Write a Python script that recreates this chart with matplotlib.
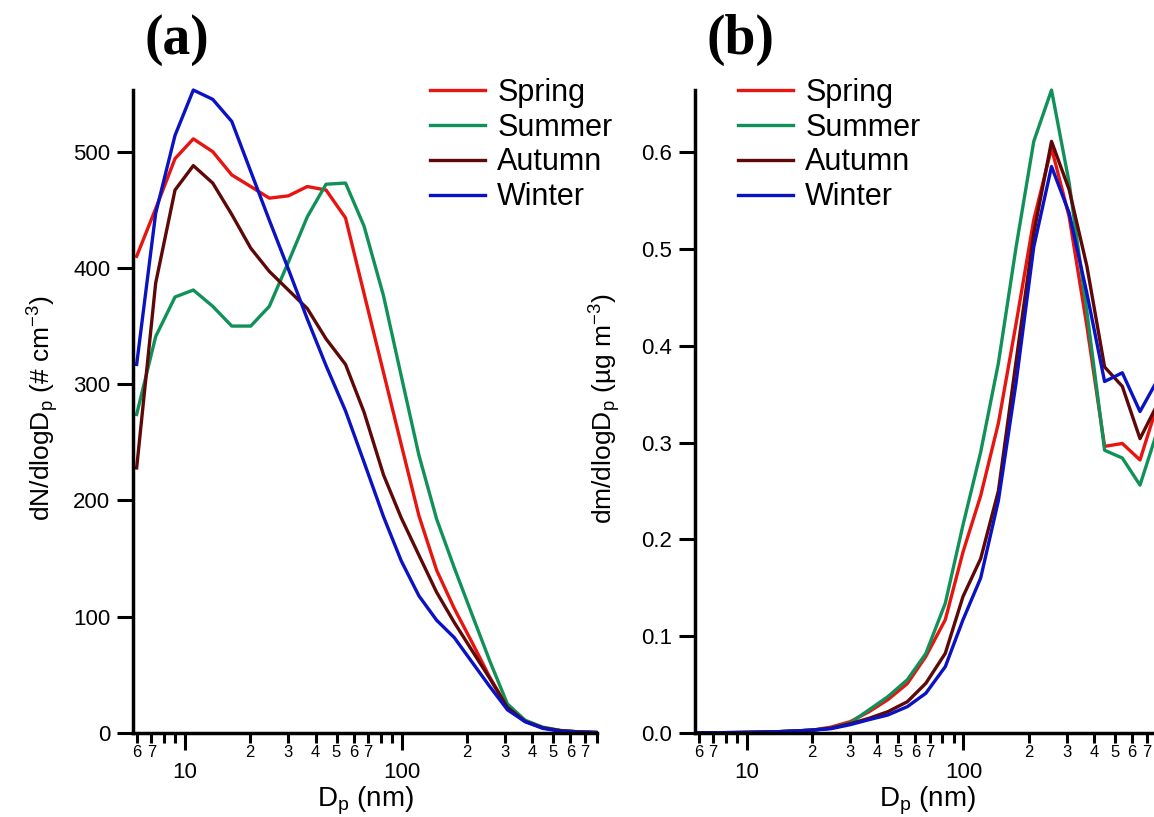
import matplotlib
matplotlib.use("Agg")
import matplotlib.pyplot as plt
from matplotlib.ticker import FixedLocator, FixedFormatter

plt.rcParams["font.family"] = ["Liberation Sans", "DejaVu Sans"]
plt.rcParams["mathtext.fontset"] = "custom"
plt.rcParams["mathtext.rm"] = "Liberation Sans"
plt.rcParams["mathtext.it"] = "Liberation Sans:italic"
plt.rcParams["mathtext.default"] = "regular"

# particle diameter bins (nm)
diameters = [5.98, 7.32, 8.99, 10.92, 13.42, 16.43, 20.10, 24.49, 29.98, 36.67,
             44.74, 55.04, 66.99, 82.41, 99.5, 120.0, 144.9, 174.9, 211.0, 254.8,
             307.4, 371.1, 447.8, 540.6, 652.4, 787.4]

seasons = ["Spring", "Summer", "Autumn", "Winter"]
colors = ["#e8140f", "#11915a", "#5e0808", "#0a12c4"]

# (a) number size distribution, # cm-3
spring_n = [410, 451, 494, 511, 500, 480, 470, 460, 462, 470, 467, 443, 378, 310,
            248, 187, 140, 107, 78, 48, 22, 10, 4.5, 2, 1, 0.5]
summer_n = [274, 341, 375, 381, 367, 350, 350, 367, 405, 444, 472, 473, 436, 376,
            307, 239, 184, 142, 102, 62, 25, 11, 5, 2.2, 1, 0.5]
autumn_n = [228, 387, 467, 488, 473, 446, 417, 397, 381, 365, 339, 317, 276, 222,
            185, 153, 121, 95, 71, 47, 22, 10, 4.5, 2, 1, 0.5]
winter_n = [317, 447, 514, 553, 545, 526, 483, 441, 399, 356, 316, 277, 233, 186,
            148, 118, 97, 82, 61, 40, 20, 9.7, 4, 1.5, 0.7, 0.3]

# (b) mass size distribution, ug m-3
spring_m = [0.0002, 0.0003, 0.0005, 0.0008, 0.0012, 0.002, 0.003, 0.0061, 0.0117,
            0.022, 0.0344, 0.051, 0.079, 0.117, 0.187, 0.245, 0.32, 0.423, 0.53,
            0.604, 0.533, 0.42, 0.296, 0.299, 0.282, 0.34]
summer_m = [0.0002, 0.0003, 0.0005, 0.0008, 0.0012, 0.002, 0.003, 0.005, 0.0105,
            0.024, 0.0375, 0.055, 0.082, 0.134, 0.215, 0.29, 0.382, 0.502, 0.611,
            0.664, 0.568, 0.435, 0.292, 0.284, 0.256, 0.313]
autumn_m = [0.0002, 0.0003, 0.0005, 0.0008, 0.0012, 0.002, 0.003, 0.005, 0.0096,
            0.0152, 0.022, 0.0323, 0.0513, 0.0823, 0.141, 0.18, 0.25, 0.384, 0.516,
            0.611, 0.561, 0.482, 0.378, 0.358, 0.304, 0.34]
winter_m = [0.0002, 0.0003, 0.0005, 0.0008, 0.0012, 0.002, 0.003, 0.0045, 0.0086,
            0.0138, 0.0186, 0.0272, 0.041, 0.0685, 0.117, 0.16, 0.24, 0.362, 0.502,
            0.585, 0.537, 0.454, 0.363, 0.372, 0.332, 0.365]

x_major = [10, 100]
x_major_labels = ["10", "100"]
x_minor = [6, 7, 8, 9, 20, 30, 40, 50, 60, 70, 80, 90,
           200, 300, 400, 500, 600, 700, 800]
x_minor_labels = ["6", "7", "", "", "2", "3", "4", "5", "6", "7", "", "",
                  "2", "3", "4", "5", "6", "7", ""]

number_ticks = [0, 100, 200, 300, 400, 500]
mass_ticks = [0.0, 0.1, 0.2, 0.3, 0.4, 0.5, 0.6]


def style_axis(ax, ylim, yticks, ylabel):
    ax.set_xscale("log")
    ax.set_xlim(5.77, 800)
    ax.set_ylim(*ylim)
    for side in ("top", "right"):
        ax.spines[side].set_visible(False)
    for side in ("left", "bottom"):
        ax.spines[side].set_linewidth(2.5)

    ax.xaxis.set_major_locator(FixedLocator(x_major))
    ax.xaxis.set_major_formatter(FixedFormatter(x_major_labels))
    ax.xaxis.set_minor_locator(FixedLocator(x_minor))
    ax.xaxis.set_minor_formatter(FixedFormatter(x_minor_labels))
    ax.tick_params(axis="x", which="major", length=12, width=2.2, pad=9,
                   labelsize=16)
    ax.tick_params(axis="x", which="minor", length=7, width=2.2, pad=1.5,
                   labelsize=12)
    ax.set_yticks(yticks)
    ax.tick_params(axis="y", which="major", length=11.5, width=2.2, pad=5,
                   labelsize=16)

    ax.set_xlabel("D$_p$ (nm)", fontsize=20)
    ax.xaxis.set_label_coords(0.5, -0.08)
    ax.set_ylabel(ylabel, fontsize=19)
    ax.yaxis.set_label_coords(-0.155, 0.505)


fig = plt.figure(figsize=(11.54, 8.17), dpi=100)
ax_a = fig.add_axes([0.1155, 0.1028, 0.4022, 0.787])
ax_b = fig.add_axes([0.6023, 0.1028, 0.4022, 0.787])

for name, color, values in zip(seasons, colors, [spring_n, summer_n, autumn_n, winter_n]):
    ax_a.plot(diameters, values, color=color, linewidth=2.4, label=name,
              clip_on=False)
for name, color, values in zip(seasons, colors, [spring_m, summer_m, autumn_m, winter_m]):
    ax_b.plot(diameters, values, color=color, linewidth=2.4, label=name,
              clip_on=False)

style_axis(ax_a, (0, 553), number_ticks, "dN/dlogD$_p$ (# cm$^{-3}$)")
style_axis(ax_b, (0, 0.664), mass_ticks, "dm/dlogD$_p$ (µg m$^{-3}$)")
ax_b.yaxis.set_major_formatter(FixedFormatter([f"{t:.1f}" for t in mass_ticks]))

legend_opts = dict(loc="upper left", frameon=False, fontsize=22,
                   handlelength=1.8, handletextpad=0.4, labelspacing=0.16,
                   borderpad=0, borderaxespad=0)
ax_a.legend(bbox_to_anchor=(0.3726, 0.905), bbox_transform=fig.transFigure,
            **legend_opts)
ax_b.legend(bbox_to_anchor=(0.6395, 0.905), bbox_transform=fig.transFigure,
            **legend_opts)

fig.text(0.1534, 0.951, "(a)", fontsize=40, fontweight="bold",
         family="Liberation Serif", ha="center", va="center")
fig.text(0.642, 0.951, "(b)", fontsize=40, fontweight="bold",
         family="Liberation Serif", ha="center", va="center")

fig.savefig("out.png", dpi=100)
